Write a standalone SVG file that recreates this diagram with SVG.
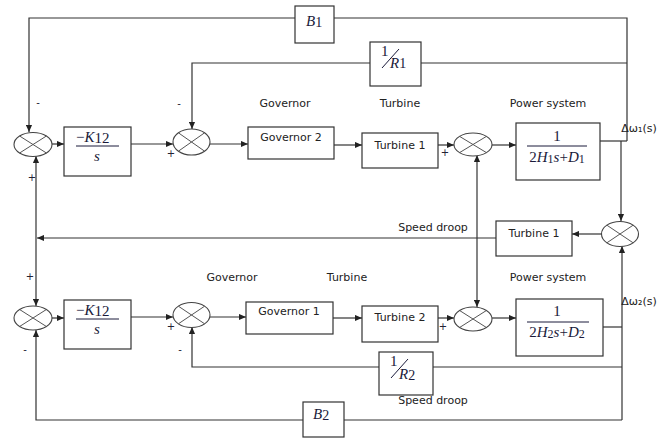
<svg xmlns="http://www.w3.org/2000/svg" width="665" height="438" viewBox="0 0 665 438">
<defs>
<marker id="ah" viewBox="0 0 8 8" refX="8" refY="4" markerWidth="7" markerHeight="7" orient="auto-start-reverse" markerUnits="userSpaceOnUse">
<path d="M0,0.5 L8,4 L0,7.5 Z" fill="#222"/>
</marker>
<style>
.box{fill:#fff;stroke:#333;stroke-width:1.2}
.sum{fill:#fff;stroke:#444;stroke-width:1.1}
.x{stroke:#555;stroke-width:1}
.ln{fill:none;stroke:#333;stroke-width:1.2}
.ar{fill:none;stroke:#333;stroke-width:1.2;marker-end:url(#ah)}
.lbl{font-family:"DejaVu Sans",Verdana,sans-serif;font-size:11px;fill:#222;text-anchor:middle}
.sign{font-family:"DejaVu Sans",sans-serif;font-size:10px;fill:#223;text-anchor:middle}
.m{font-family:"Liberation Serif","Times New Roman",serif;font-size:15px;fill:#1a1a3a}
.mi{font-style:italic}
</style>
</defs>
<rect width="665" height="438" fill="#fff"/>

<g id="connectors">
<path class="ln" d="M627,141 V18 H334"/>
<path class="ar" d="M295,18 H29 V132"/>
<path class="ln" d="M627,63 H421"/>
<path class="ar" d="M370,63 H192 V129"/>
<path class="ln" d="M600,141 H627"/>
<path class="ar" d="M621,141 V221"/>
<path class="ar" d="M52,144 H64"/>
<path class="ar" d="M131,144 H173"/>
<path class="ar" d="M210,144 H248"/>
<path class="ar" d="M334,145 H362"/>
<path class="ar" d="M438,145 H454"/>
<path class="ar" d="M492,145 H516"/>
<path class="ar" d="M477,231 V307"/>
<path class="ar" d="M477,231 V155"/>
<path class="ar" d="M36,231 V156"/>
<path class="ar" d="M36,231 V306"/>
<path class="ar" d="M496,238 H37"/>
<path class="ar" d="M602,234 H572"/>
<path class="ar" d="M622,420 V246"/>
<path class="ln" d="M603,327 H622"/>
<path class="ln" d="M622,367 H433"/>
<path class="ar" d="M379,367 H192 V327"/>
<path class="ln" d="M622,420 H344"/>
<path class="ar" d="M303,420 H36 V330"/>
<path class="ar" d="M52,318 H64"/>
<path class="ar" d="M131,317 H173"/>
<path class="ar" d="M210,317 H246"/>
<path class="ar" d="M333,318 H362"/>
<path class="ar" d="M438,318 H454"/>
<path class="ar" d="M492,318 H516"/>
</g>

<g id="sum1"><ellipse class="sum" cx="33" cy="144.5" rx="19" ry="12"/><path class="x" d="M19.6,136 L46.4,153 M19.6,153 L46.4,136"/></g>
<g id="sum2"><ellipse class="sum" cx="191.5" cy="142" rx="18.5" ry="13"/><path class="x" d="M178.4,132.8 L204.6,151.2 M178.4,151.2 L204.6,132.8"/></g>
<g id="sum3"><ellipse class="sum" cx="473" cy="144.5" rx="19" ry="11.5"/><path class="x" d="M459.6,136.4 L486.4,152.6 M459.6,152.6 L486.4,136.4"/></g>
<g id="sum4"><ellipse class="sum" cx="33" cy="318" rx="19" ry="12"/><path class="x" d="M19.6,309.5 L46.4,326.5 M19.6,326.5 L46.4,309.5"/></g>
<g id="sum5"><ellipse class="sum" cx="191.5" cy="315" rx="18.5" ry="12.5"/><path class="x" d="M178.4,306.2 L204.6,323.8 M178.4,323.8 L204.6,306.2"/></g>
<g id="sum6"><ellipse class="sum" cx="620" cy="234" rx="18.5" ry="12.5"/><path class="x" d="M606.9,225.2 L633.1,242.8 M606.9,242.8 L633.1,225.2"/></g>
<g id="sum7"><ellipse class="sum" cx="473" cy="319" rx="19" ry="12"/><path class="x" d="M459.6,310.5 L486.4,327.5 M459.6,327.5 L486.4,310.5"/></g>

<g id="B1"><rect class="box" x="295" y="6" width="39" height="37"/><text class="m" x="306" y="26"><tspan class="mi">B</tspan><tspan font-size="14" dy="1">1</tspan></text></g>
<g id="R1"><rect class="box" x="370" y="42" width="51" height="44"/><text class="m" x="381" y="56" font-size="14">1</text><line x1="382" y1="68" x2="399" y2="49" stroke="#1a1a3a" stroke-width="1"/><text class="m" x="390" y="68"><tspan class="mi">R</tspan><tspan font-size="14">1</tspan></text></g>
<g id="K12a"><rect class="box" x="64" y="127" width="67" height="49"/><text class="m" x="76" y="142" font-size="16"><tspan>−</tspan><tspan class="mi">K</tspan><tspan font-size="15" dy="1">12</tspan></text><line x1="76" y1="146" x2="119" y2="146" stroke="#1a1a3a" stroke-width="1"/><text class="m mi" x="97" y="161" text-anchor="middle" font-size="14">s</text></g>
<g id="gov2"><rect class="box" x="248" y="127" width="86" height="32"/><text class="lbl" x="291" y="141">Governor 2</text></g>
<g id="turb1"><rect class="box" x="362" y="133" width="76" height="35"/><text class="lbl" x="400" y="149">Turbine 1</text></g>
<g id="ps1"><rect class="box" x="516" y="123" width="84" height="57"/><text class="m" x="557" y="141" text-anchor="middle" font-size="14">1</text><line x1="527" y1="146" x2="587" y2="146" stroke="#1a1a3a" stroke-width="1"/><text class="m" x="557" y="162" text-anchor="middle" font-size="14">2<tspan class="mi">H</tspan><tspan font-size="12" dy="1">1</tspan><tspan class="mi" dy="-1">s</tspan>+<tspan class="mi">D</tspan><tspan font-size="12" dy="1">1</tspan></text></g>
<g id="turb1b"><rect class="box" x="496" y="221" width="76" height="35"/><text class="lbl" x="534" y="237">Turbine 1</text></g>
<g id="K12b"><rect class="box" x="64" y="300" width="67" height="49"/><text class="m" x="76" y="315" font-size="16"><tspan>−</tspan><tspan class="mi">K</tspan><tspan font-size="15" dy="1">12</tspan></text><line x1="76" y1="319" x2="119" y2="319" stroke="#1a1a3a" stroke-width="1"/><text class="m mi" x="97" y="334" text-anchor="middle" font-size="14">s</text></g>
<g id="gov1"><rect class="box" x="246" y="302" width="87" height="32"/><text class="lbl" x="289" y="315">Governor 1</text></g>
<g id="turb2"><rect class="box" x="362" y="306" width="76" height="36"/><text class="lbl" x="400" y="321">Turbine 2</text></g>
<g id="ps2"><rect class="box" x="516" y="299" width="87" height="57"/><text class="m" x="557" y="316" text-anchor="middle" font-size="14">1</text><line x1="527" y1="322" x2="589" y2="322" stroke="#1a1a3a" stroke-width="1"/><text class="m" x="557" y="337" text-anchor="middle" font-size="14">2<tspan class="mi">H</tspan><tspan font-size="12" dy="1">2</tspan><tspan class="mi" dy="-1">s</tspan>+<tspan class="mi">D</tspan><tspan font-size="12" dy="1">2</tspan></text></g>
<g id="R2"><rect class="box" x="379" y="352" width="54" height="43"/><text class="m" x="390" y="366" font-size="14">1</text><line x1="391" y1="378" x2="408" y2="359" stroke="#1a1a3a" stroke-width="1"/><text class="m" x="399" y="379"><tspan class="mi">R</tspan><tspan font-size="14" dy="1">2</tspan></text></g>
<g id="B2"><rect class="box" x="303" y="402" width="41" height="35"/><text class="m" x="313" y="419"><tspan class="mi">B</tspan><tspan font-size="14" dy="1">2</tspan></text></g>

<g id="labels">
<text class="lbl" x="285" y="107">Governor</text>
<text class="lbl" x="400" y="107">Turbine</text>
<text class="lbl" x="548" y="107">Power system</text>
<text class="lbl" x="232" y="281">Governor</text>
<text class="lbl" x="347" y="281">Turbine</text>
<text class="lbl" x="548" y="281">Power system</text>
<text class="lbl" x="433" y="231">Speed droop</text>
<text class="lbl" x="433" y="404">Speed droop</text>
<text class="lbl" x="639" y="132" font-size="10.5">Δω₁(s)</text>
<text class="lbl" x="639" y="305" font-size="10.5">Δω₂(s)</text>
<text class="sign" x="38" y="106">-</text>
<text class="sign" x="32" y="181">+</text>
<text class="sign" x="171" y="157" font-size="8">+</text>
<text class="sign" x="179" y="107">-</text>
<text class="sign" x="445" y="156" font-size="8">+</text>
<text class="sign" x="30" y="280">+</text>
<text class="sign" x="25" y="353">-</text>
<text class="sign" x="171" y="330" font-size="9">+</text>
<text class="sign" x="180" y="353">-</text>
<text class="sign" x="443" y="330" font-size="8">+</text>
</g>
</svg>
